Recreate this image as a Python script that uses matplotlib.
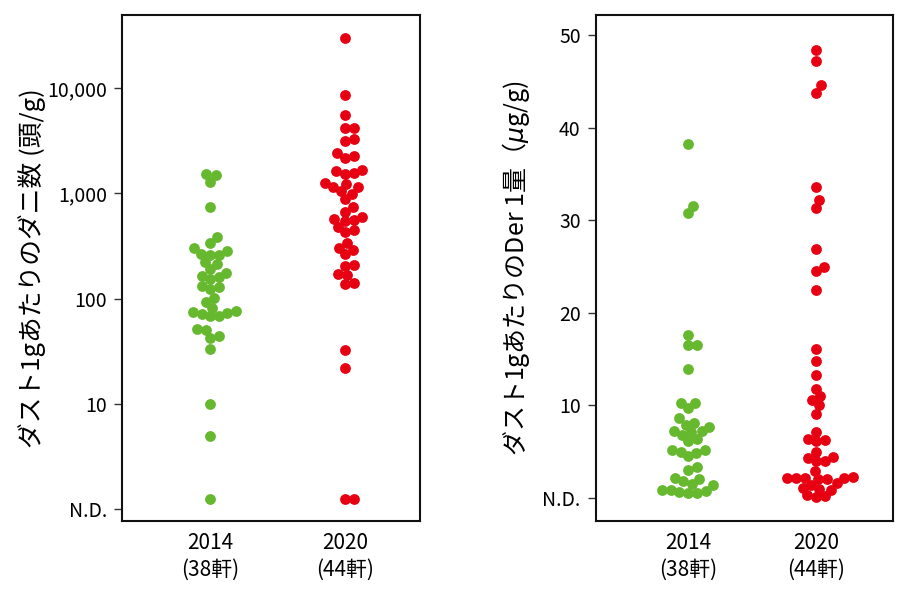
import matplotlib
matplotlib.use("Agg")
import matplotlib.pyplot as plt
import numpy as np

years = ['2014', '2020']
year_labels = ['2014\n(38軒)', '2020\n(44軒)']
green = '#66b82e'
red = '#e60012'

# mites per gram of dust (N.D. drawn a little above the N.D. tick, as in the source)
ND_MITE = 1.25
mites_2014 = [1530, 1480, 1290, 740, 384, 339, 301, 282, 268, 262, 262, 222, 215,
              189, 176, 164, 161, 152, 131, 129, 122, 101, 93, 82, 76, 75, 73, 72,
              68, 68, 51, 50, 44, 42, 33, 9.9, 4.9, ND_MITE]
mites_2020 = [29700, 8550, 5590, 4200, 4150, 3310, 3125, 2404, 2270, 2183, 1667,
              1620, 1550, 1540, 1246, 1236, 1160, 1150, 1055, 993, 891, 743, 670,
              601, 572, 560, 547, 480, 445, 430, 336, 305, 290, 264, 207, 204, 171,
              168, 140, 139, 32.8, 22.1, ND_MITE, ND_MITE]

# Der 1 per gram of dust (ug/g)
der1_2014 = [38.2, 31.6, 30.8, 17.6, 16.5, 16.5, 13.9, 10.3, 10.3, 9.7, 8.6, 8.1,
             7.9, 7.7, 7.2, 7.2, 7.1, 6.8, 6.4, 6.1, 5.2, 5.2, 5.0, 4.9, 4.5, 3.3,
             3.0, 2.2, 2.0, 1.8, 1.45, 1.35, 0.9, 0.9, 0.73, 0.67, 0.56, 0.56]
der1_2020 = [48.4, 47.2, 44.6, 43.8, 33.6, 32.2, 31.3, 26.9, 25.0, 24.5, 22.5,
             16.1, 14.8, 13.3, 11.8, 11.0, 10.6, 10.0, 9.1, 7.1, 6.4, 6.3, 6.1,
             5.0, 4.4, 4.3, 4.0, 4.0, 2.9, 2.3, 2.2, 2.2, 2.1, 2.1, 2.0, 2.0, 1.6,
             1.4, 1.1, 1.0, 0.9, 0.3, 0.2, 0.1]

mite_ticks = [1, 10, 100, 1000, 10000]
mite_ticklabels = ['N.D.', '10', '100', '1,000', '10,000']
der_ticks = [0, 10, 20, 30, 40, 50]
der_ticklabels = ['N.D.', '10', '20', '30', '40', '50']

plt.rcParams['font.family'] = ['Noto Sans CJK JP', 'DejaVu Sans']

DOT_PX = 10.8    # marker diameter in pixels
GAP_PX = 8.9     # min centre distance in the swarm (dots overlap a touch)


def swarm(ax, xpos, values, color):
    """simple beeswarm: place points bottom-up, as close to the centre as possible"""
    vals = np.asarray(values, dtype=float)
    ys = ax.transData.transform(np.column_stack([np.zeros(len(vals)), vals]))[:, 1]
    ppu = ax.transData.transform((1, 0))[0] - ax.transData.transform((0, 0))[0]
    xs = np.zeros(len(vals))
    placed = []
    for i in np.argsort(ys, kind='stable'):
        y = ys[i]
        near = [(px, py) for px, py in placed if abs(py - y) < GAP_PX]
        cands = [0.0]
        for px, py in near:
            dx = np.sqrt(GAP_PX ** 2 - (py - y) ** 2)
            cands += [px + dx, px - dx]
        cands.sort(key=lambda c: (abs(c), -c))
        for c in cands:
            if all((c - px) ** 2 + (y - py) ** 2 >= GAP_PX ** 2 - 1e-6 for px, py in near):
                xs[i] = c
                break
        placed.append((xs[i], y))
    size = (DOT_PX * 72 / fig.dpi) ** 2
    ax.scatter(xpos + xs / ppu, vals, s=size, color=color, linewidths=0, zorder=3)


def style_axis(ax):
    for s in ax.spines.values():
        s.set_linewidth(1.5)
        s.set_color('#111111')
    ax.set_xticks([0, 1])
    ax.set_xticklabels(year_labels, fontsize=15, linespacing=1.3)
    ax.tick_params(axis='x', length=0, pad=8)
    ax.tick_params(axis='y', which='major', length=6, width=1, color='#333333',
                   labelsize=14, pad=5)
    ax.tick_params(axis='y', which='minor', length=0)


fig = plt.figure(figsize=(9.21, 5.95), dpi=100)
ax1 = fig.add_axes([0.1325, 0.1244, 0.3236, 0.8504])
ax2 = fig.add_axes([0.6471, 0.1244, 0.3225, 0.8504])

ax1.set_yscale('log')
ax1.set_xlim(-0.652, 1.556)
ax1.set_ylim(0.77, 49500)
swarm(ax1, 0, mites_2014, green)
swarm(ax1, 1, mites_2020, red)
ax1.set_yticks(mite_ticks)
ax1.set_yticklabels(mite_ticklabels)
ax1.set_ylabel('ダスト1gあたりのダニ数 (頭/g)', fontsize=18.5)
ax1.yaxis.set_label_coords(-0.255, 0.5)
style_axis(ax1)

ax2.set_xlim(-0.72, 1.60)
ax2.set_ylim(-2.5, 52.2)
swarm(ax2, 0, der1_2014, green)
swarm(ax2, 1, der1_2020, red)
ax2.set_yticks(der_ticks)
ax2.set_yticklabels(der_ticklabels)
ax2.set_ylabel('ダスト1gあたりのDer 1量（$\\mu$g/g)', fontsize=18)
ax2.yaxis.set_label_coords(-0.215, 0.5)
style_axis(ax2)

fig.savefig('out.png', dpi=100)
